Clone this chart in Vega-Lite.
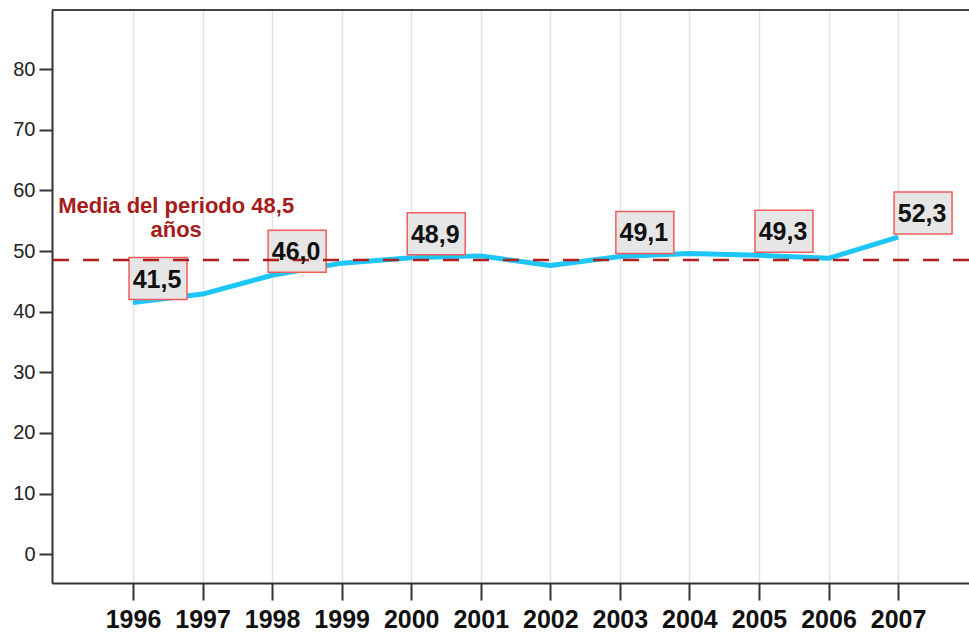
{
  "$schema": "https://vega.github.io/schema/vega-lite/v6.json",
  "width": 917,
  "height": 573,
  "autosize": {"type": "none"},
  "padding": {"left": 52, "top": 10, "right": 0, "bottom": 49},
  "background": "white",
  "config": {
    "view": {"stroke": null},
    "locale": {"number": {"decimal": ",", "thousands": ".", "grouping": [3], "currency": ["", " €"]}}
  },
  "datasets": {
    "serie": [
      {"year": 1996, "edad": 41.5},
      {"year": 1997, "edad": 42.9},
      {"year": 1998, "edad": 46.0},
      {"year": 1999, "edad": 48.0},
      {"year": 2000, "edad": 48.9},
      {"year": 2001, "edad": 49.2},
      {"year": 2002, "edad": 47.6},
      {"year": 2003, "edad": 49.1},
      {"year": 2004, "edad": 49.6},
      {"year": 2005, "edad": 49.3},
      {"year": 2006, "edad": 48.8},
      {"year": 2007, "edad": 52.3}
    ],
    "media": [{"valor": 48.5, "texto": ["Media del periodo 48,5", "años"], "xt": 1996.62, "yt": 57.5}]
  },
  "layer": [
    {
      "data": {"name": "serie"},
      "mark": {"type": "line", "color": "#1ec6f7", "strokeWidth": 5, "strokeJoin": "round"},
      "encoding": {
        "x": {
          "field": "year", "type": "quantitative",
          "scale": {"domain": [1994.835, 2008.02], "nice": false, "zero": false},
          "axis": {
            "values": [1996, 1997, 1998, 1999, 2000, 2001, 2002, 2003, 2004, 2005, 2006, 2007],
            "format": "d", "title": null,
            "grid": true, "gridColor": "#e2e2e2", "gridWidth": 1.5,
            "domainColor": "#333333", "domainWidth": 2,
            "tickColor": "#333333", "tickWidth": 2, "tickSize": 17,
            "labelFont": "Liberation Sans", "labelFontWeight": "bold", "labelFontSize": 25,
            "labelColor": "#111111", "labelPadding": 7, "labelFlush": false
          }
        },
        "y": {
          "field": "edad", "type": "quantitative",
          "scale": {"domain": [-4.75, 89.75], "nice": false, "zero": false},
          "axis": {
            "values": [0, 10, 20, 30, 40, 50, 60, 70, 80],
            "title": null, "grid": false,
            "domainColor": "#333333", "domainWidth": 2,
            "tickColor": "#333333", "tickWidth": 2, "tickSize": 13,
            "labelFont": "Liberation Sans", "labelFontSize": 20, "labelColor": "#222222",
            "labelPadding": 4
          }
        }
      }
    },
    {
      "data": {"name": "serie"},
      "transform": [{"filter": {"field": "year", "oneOf": [1996, 1998, 2000, 2003, 2005, 2007]}}],
      "mark": {
        "type": "point", "filled": true, "fill": "#e6e6e6", "stroke": "#f05c5c", "strokeWidth": 1.5,
        "opacity": 1, "fillOpacity": 1,
        "shape": "M-1,-0.724L1,-0.724L1,0.724L-1,0.724Z",
        "size": 3364, "xOffset": 25, "yOffset": -24
      },
      "encoding": {
        "x": {"field": "year", "type": "quantitative"},
        "y": {"field": "edad", "type": "quantitative"}
      }
    },
    {
      "data": {"name": "media"},
      "mark": {"type": "rule", "color": "#b01e1e", "strokeWidth": 2.5, "strokeDash": [16, 14]},
      "encoding": {"y": {"field": "valor", "type": "quantitative"}}
    },
    {
      "data": {"name": "serie"},
      "transform": [{"filter": {"field": "year", "oneOf": [1996, 1998, 2000, 2003, 2005, 2007]}}],
      "mark": {
        "type": "text", "font": "Liberation Sans", "fontWeight": "bold", "fontSize": 25,
        "color": "#111111", "align": "center", "baseline": "middle", "xOffset": 24, "yOffset": -23
      },
      "encoding": {
        "x": {"field": "year", "type": "quantitative"},
        "y": {"field": "edad", "type": "quantitative"},
        "text": {"field": "edad", "type": "quantitative", "format": ".1f"}
      }
    },
    {
      "data": {"name": "media"},
      "mark": {
        "type": "text", "font": "Liberation Sans", "fontWeight": "bold", "fontSize": 22,
        "color": "#a51c1c", "align": "center", "baseline": "middle", "lineHeight": 24
      },
      "encoding": {
        "x": {"field": "xt", "type": "quantitative"},
        "y": {"field": "yt", "type": "quantitative"},
        "text": {"field": "texto"}
      }
    },
    {
      "data": {"name": "media"},
      "mark": {"type": "rule", "color": "#444444", "strokeWidth": 2},
      "encoding": {"y": {"datum": 89.75, "type": "quantitative"}}
    }
  ]
}
